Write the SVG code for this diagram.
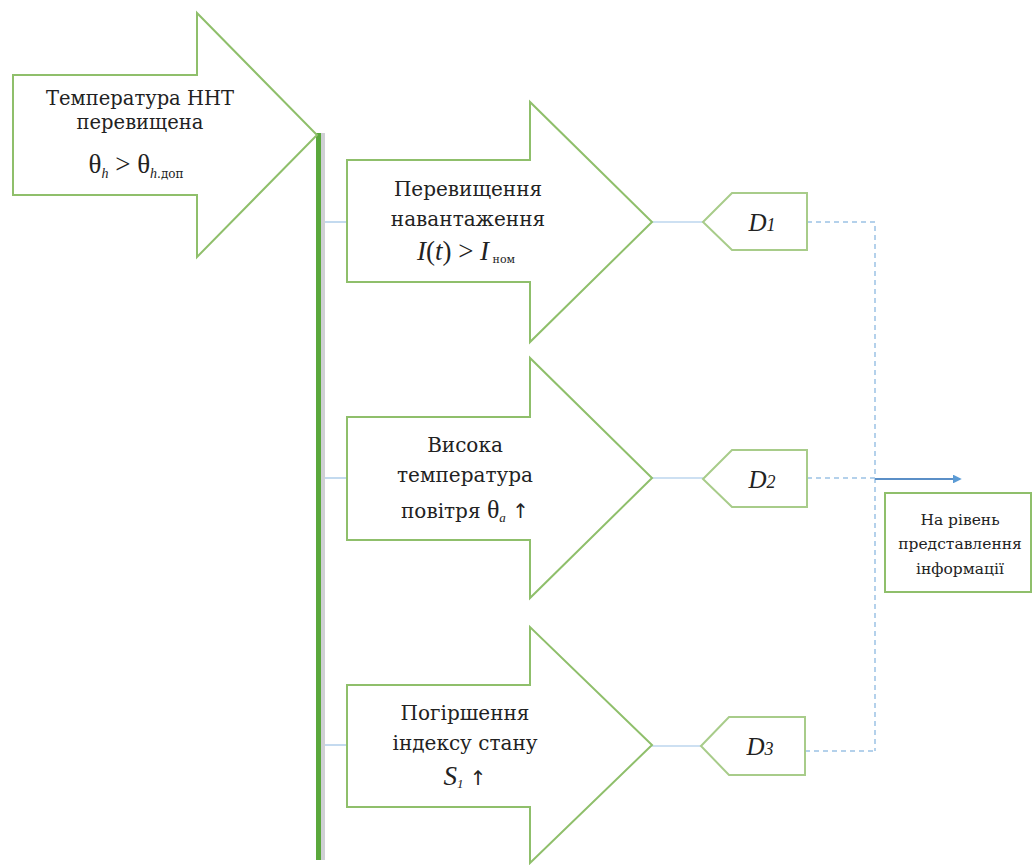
<svg xmlns="http://www.w3.org/2000/svg" width="1033" height="865" viewBox="0 0 1033 865">
<defs>
<style>
.shape{fill:#ffffff;stroke:#8fbf6b;stroke-width:2}
.dbox{fill:#ffffff;stroke:#a8cc8a;stroke-width:2}
text{font-family:'DejaVu Serif','Liberation Serif',serif;fill:#222;text-anchor:middle}
.lat{font-family:'Liberation Serif','DejaVu Serif',serif}
.lbl{font-size:20px}
.sub{font-size:13px}
.it{font-style:italic}
.conn{stroke:#9cc2e5;stroke-width:1.2;fill:none}
.dash{stroke:#9cc2e5;stroke-width:1.5;fill:none;stroke-dasharray:5 4}
</style>
<marker id="ah" viewBox="0 0 10 10" refX="8" refY="5" markerWidth="4" markerHeight="4" orient="auto">
<path d="M0,0 L10,5 L0,10 z" fill="#5b9bd5"/>
</marker>
</defs>
<rect width="1033" height="865" fill="#ffffff"/>

<g id="connectors">
<line class="conn" x1="321" y1="222" x2="347" y2="222"/>
<line class="conn" x1="321" y1="478" x2="347" y2="478"/>
<line class="conn" x1="321" y1="745" x2="347" y2="745"/>
<line class="conn" x1="652" y1="222" x2="703" y2="222"/>
<line class="conn" x1="652" y1="478" x2="703" y2="478"/>
<line class="conn" x1="652" y1="746" x2="701" y2="746"/>
<polyline class="dash" points="807,222 875,222 875,751"/>
<line class="dash" x1="807" y1="478" x2="875" y2="478"/>
<line class="dash" x1="805" y1="751" x2="875" y2="751"/>
<line x1="875" y1="479" x2="960" y2="479" stroke="#5b8fc7" stroke-width="2.2" marker-end="url(#ah)"/>
</g>

<g id="bus">
<rect x="321" y="133" width="4" height="727" fill="#cfcfd4"/>
<rect x="316" y="133" width="5" height="727" fill="#5aa83c"/>
</g>

<g id="n-main">
<polygon class="shape" points="13,75 197,75 197,13 317,135 197,257 197,195 13,195"/>
<text style="font-size:19.5px" x="140" y="105">Температура ННТ</text>
<text style="font-size:19.5px" x="140" y="129">перевищена</text>
<text class="lat" style="font-size:27px" x="136" y="173">θ<tspan class="it" style="font-size:14px" dy="5">h</tspan><tspan dy="-5"> &gt; θ</tspan><tspan class="it" style="font-size:14px" dy="5">h</tspan><tspan style="font-size:12px" font-family="DejaVu Serif, serif">.доп</tspan></text>
</g>

<g id="n-overload">
<polygon class="shape" points="347,160 530,160 530,102 652,222 530,342 530,282 347,282"/>
<text class="lbl" x="468" y="196">Перевищення</text>
<text class="lbl" x="468" y="226">навантаження</text>
<text class="lat" style="font-size:27px" x="466" y="260"><tspan class="it">I</tspan>(<tspan class="it">t</tspan>) &gt; <tspan class="it">I</tspan><tspan style="font-size:11px" font-family="DejaVu Serif, serif" dy="3">  ном</tspan></text>
</g>

<g id="n-airtemp">
<polygon class="shape" points="347,417 530,417 530,358 652,478 530,598 530,540 347,540"/>
<text class="lbl" x="465" y="452">Висока</text>
<text class="lbl" x="465" y="482">температура</text>
<text class="lbl" x="465" y="518">повітря  <tspan class="lat" style="font-size:26px">θ</tspan><tspan class="it sub lat" dy="4">a</tspan><tspan dy="-4" font-family="DejaVu Sans, sans-serif">  ↑</tspan></text>
</g>

<g id="n-index">
<polygon class="shape" points="347,685 530,685 530,627 652,745 530,863 530,807 347,807"/>
<text class="lbl" x="465" y="720">Погіршення</text>
<text class="lbl" x="465" y="750">індексу стану</text>
<text class="lbl" x="465" y="785"><tspan class="it lat" style="font-size:27px">S</tspan><tspan class="it sub lat" dy="3">1</tspan><tspan dy="-3" font-family="DejaVu Sans, sans-serif">  ↑</tspan></text>
</g>

<g id="n-d1">
<polygon class="dbox" points="703,222 732,193 807,193 807,250 732,250"/>
<text class="it lat" style="font-size:25px" x="762" y="231">D<tspan style="font-size:18px">1</tspan></text>
</g>
<g id="n-d2">
<polygon class="dbox" points="703,479 732,450 807,450 807,507 732,507"/>
<text class="it lat" style="font-size:25px" x="762" y="488">D<tspan style="font-size:18px">2</tspan></text>
</g>
<g id="n-d3">
<polygon class="dbox" points="701,746 729,717 805,717 805,775 729,775"/>
<text class="it lat" style="font-size:25px" x="760" y="755">D<tspan style="font-size:18px">3</tspan></text>
</g>

<g id="n-out">
<rect x="885" y="493" width="146" height="99" fill="#ffffff" stroke="#8fbf6b" stroke-width="2"/>
<text style="font-size:15.5px" x="960" y="525">На рівень</text>
<text style="font-size:15.5px" x="960" y="549">представлення</text>
<text style="font-size:15.5px" x="960" y="574">інформації</text>
</g>
</svg>
